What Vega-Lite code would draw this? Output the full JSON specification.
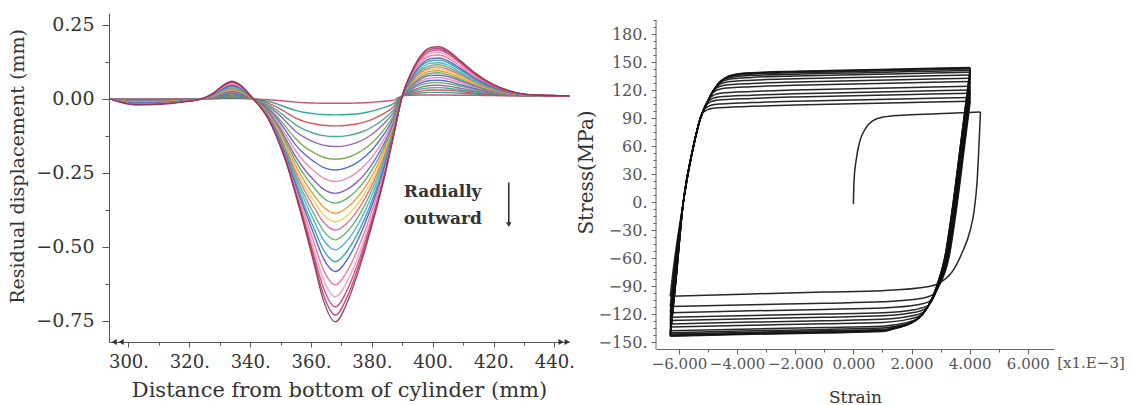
{
"$schema":"https://vega.github.io/schema/vega-lite/v6.json",
"background":"white",
"padding":{"left":8,"top":13,"right":5,"bottom":2},
"bounds":"flush",
"spacing":87,
"config":{"view":{"stroke":null},"font":"DejaVu Serif","axis":{"grid":false,"titleFontWeight":"normal","labelFlush":false,"labelOverlap":false}},
"datasets":{
"disp":[
{"c":1,"x":294,"y":0},{"c":1,"x":302,"y":0},{"c":1,"x":311,"y":0},{"c":1,"x":318,"y":0},{"c":1,"x":324,"y":0},{"c":1,"x":328,"y":0},{"c":1,"x":331,"y":0.001},{"c":1,"x":334,"y":0.001},{"c":1,"x":337,"y":0.001},{"c":1,"x":340,"y":0},{"c":1,"x":343,"y":-0.001},{"c":1,"x":346,"y":-0.003},{"c":1,"x":349,"y":-0.005},{"c":1,"x":352,"y":-0.008},{"c":1,"x":355,"y":-0.011},{"c":1,"x":358,"y":-0.013},{"c":1,"x":361,"y":-0.014},{"c":1,"x":364,"y":-0.015},{"c":1,"x":368,"y":-0.015},{"c":1,"x":372,"y":-0.015},{"c":1,"x":375,"y":-0.014},{"c":1,"x":378,"y":-0.013},{"c":1,"x":381,"y":-0.011},{"c":1,"x":384,"y":-0.008},{"c":1,"x":387,"y":-0.005},{"c":1,"x":390,"y":0.01},{"c":1,"x":393,"y":0.012},{"c":1,"x":396,"y":0.013},{"c":1,"x":399,"y":0.013},{"c":1,"x":402,"y":0.013},{"c":1,"x":405,"y":0.013},{"c":1,"x":409,"y":0.012},{"c":1,"x":414,"y":0.012},{"c":1,"x":420,"y":0.011},{"c":1,"x":427,"y":0.01},{"c":1,"x":435,"y":0.01},{"c":1,"x":445,"y":0.01},
{"c":2,"x":294,"y":0},{"c":2,"x":302,"y":-0.001},{"c":2,"x":311,"y":-0.001},{"c":2,"x":318,"y":-0.001},{"c":2,"x":324,"y":0},{"c":2,"x":328,"y":0.001},{"c":2,"x":331,"y":0.003},{"c":2,"x":334,"y":0.004},{"c":2,"x":337,"y":0.003},{"c":2,"x":340,"y":0.001},{"c":2,"x":343,"y":-0.003},{"c":2,"x":346,"y":-0.009},{"c":2,"x":349,"y":-0.018},{"c":2,"x":352,"y":-0.029},{"c":2,"x":355,"y":-0.039},{"c":2,"x":358,"y":-0.046},{"c":2,"x":361,"y":-0.05},{"c":2,"x":364,"y":-0.053},{"c":2,"x":368,"y":-0.054},{"c":2,"x":372,"y":-0.053},{"c":2,"x":375,"y":-0.051},{"c":2,"x":378,"y":-0.046},{"c":2,"x":381,"y":-0.039},{"c":2,"x":384,"y":-0.029},{"c":2,"x":387,"y":-0.017},{"c":2,"x":390,"y":0.01},{"c":2,"x":393,"y":0.016},{"c":2,"x":396,"y":0.02},{"c":2,"x":399,"y":0.022},{"c":2,"x":402,"y":0.022},{"c":2,"x":405,"y":0.021},{"c":2,"x":409,"y":0.019},{"c":2,"x":414,"y":0.016},{"c":2,"x":420,"y":0.013},{"c":2,"x":427,"y":0.011},{"c":2,"x":435,"y":0.01},{"c":2,"x":445,"y":0.01},
{"c":3,"x":294,"y":0},{"c":3,"x":302,"y":-0.002},{"c":3,"x":311,"y":-0.002},{"c":3,"x":318,"y":-0.001},{"c":3,"x":324,"y":0},{"c":3,"x":328,"y":0.002},{"c":3,"x":331,"y":0.005},{"c":3,"x":334,"y":0.007},{"c":3,"x":337,"y":0.005},{"c":3,"x":340,"y":0.001},{"c":3,"x":343,"y":-0.005},{"c":3,"x":346,"y":-0.015},{"c":3,"x":349,"y":-0.029},{"c":3,"x":352,"y":-0.047},{"c":3,"x":355,"y":-0.065},{"c":3,"x":358,"y":-0.077},{"c":3,"x":361,"y":-0.084},{"c":3,"x":364,"y":-0.089},{"c":3,"x":368,"y":-0.091},{"c":3,"x":372,"y":-0.089},{"c":3,"x":375,"y":-0.085},{"c":3,"x":378,"y":-0.077},{"c":3,"x":381,"y":-0.065},{"c":3,"x":384,"y":-0.049},{"c":3,"x":387,"y":-0.028},{"c":3,"x":390,"y":0.01},{"c":3,"x":393,"y":0.02},{"c":3,"x":396,"y":0.026},{"c":3,"x":399,"y":0.03},{"c":3,"x":402,"y":0.03},{"c":3,"x":405,"y":0.029},{"c":3,"x":409,"y":0.025},{"c":3,"x":414,"y":0.019},{"c":3,"x":420,"y":0.015},{"c":3,"x":427,"y":0.011},{"c":3,"x":435,"y":0.01},{"c":3,"x":445,"y":0.01},
{"c":4,"x":294,"y":0},{"c":4,"x":302,"y":-0.003},{"c":4,"x":311,"y":-0.003},{"c":4,"x":318,"y":-0.002},{"c":4,"x":324,"y":0},{"c":4,"x":328,"y":0.003},{"c":4,"x":331,"y":0.008},{"c":4,"x":334,"y":0.01},{"c":4,"x":337,"y":0.008},{"c":4,"x":340,"y":0.002},{"c":4,"x":343,"y":-0.007},{"c":4,"x":346,"y":-0.021},{"c":4,"x":349,"y":-0.04},{"c":4,"x":352,"y":-0.064},{"c":4,"x":355,"y":-0.088},{"c":4,"x":358,"y":-0.105},{"c":4,"x":361,"y":-0.116},{"c":4,"x":364,"y":-0.124},{"c":4,"x":368,"y":-0.127},{"c":4,"x":372,"y":-0.124},{"c":4,"x":375,"y":-0.117},{"c":4,"x":378,"y":-0.106},{"c":4,"x":381,"y":-0.089},{"c":4,"x":384,"y":-0.067},{"c":4,"x":387,"y":-0.039},{"c":4,"x":390,"y":0.01},{"c":4,"x":393,"y":0.024},{"c":4,"x":396,"y":0.033},{"c":4,"x":399,"y":0.037},{"c":4,"x":402,"y":0.038},{"c":4,"x":405,"y":0.036},{"c":4,"x":409,"y":0.03},{"c":4,"x":414,"y":0.023},{"c":4,"x":420,"y":0.016},{"c":4,"x":427,"y":0.012},{"c":4,"x":435,"y":0.01},{"c":4,"x":445,"y":0.01},
{"c":5,"x":294,"y":0},{"c":5,"x":302,"y":-0.004},{"c":5,"x":311,"y":-0.004},{"c":5,"x":318,"y":-0.002},{"c":5,"x":324,"y":0},{"c":5,"x":328,"y":0.004},{"c":5,"x":331,"y":0.01},{"c":5,"x":334,"y":0.013},{"c":5,"x":337,"y":0.01},{"c":5,"x":340,"y":0.003},{"c":5,"x":343,"y":-0.009},{"c":5,"x":346,"y":-0.026},{"c":5,"x":349,"y":-0.049},{"c":5,"x":352,"y":-0.08},{"c":5,"x":355,"y":-0.11},{"c":5,"x":358,"y":-0.131},{"c":5,"x":361,"y":-0.146},{"c":5,"x":364,"y":-0.156},{"c":5,"x":368,"y":-0.161},{"c":5,"x":372,"y":-0.157},{"c":5,"x":375,"y":-0.148},{"c":5,"x":378,"y":-0.133},{"c":5,"x":381,"y":-0.112},{"c":5,"x":384,"y":-0.083},{"c":5,"x":387,"y":-0.048},{"c":5,"x":390,"y":0.01},{"c":5,"x":393,"y":0.027},{"c":5,"x":396,"y":0.039},{"c":5,"x":399,"y":0.045},{"c":5,"x":402,"y":0.046},{"c":5,"x":405,"y":0.043},{"c":5,"x":409,"y":0.036},{"c":5,"x":414,"y":0.026},{"c":5,"x":420,"y":0.018},{"c":5,"x":427,"y":0.013},{"c":5,"x":435,"y":0.01},{"c":5,"x":445,"y":0.01},
{"c":6,"x":294,"y":0},{"c":6,"x":302,"y":-0.005},{"c":6,"x":311,"y":-0.005},{"c":6,"x":318,"y":-0.003},{"c":6,"x":324,"y":0},{"c":6,"x":328,"y":0.005},{"c":6,"x":331,"y":0.012},{"c":6,"x":334,"y":0.016},{"c":6,"x":337,"y":0.012},{"c":6,"x":340,"y":0.003},{"c":6,"x":343,"y":-0.011},{"c":6,"x":346,"y":-0.032},{"c":6,"x":349,"y":-0.061},{"c":6,"x":352,"y":-0.098},{"c":6,"x":355,"y":-0.135},{"c":6,"x":358,"y":-0.163},{"c":6,"x":361,"y":-0.182},{"c":6,"x":364,"y":-0.197},{"c":6,"x":368,"y":-0.204},{"c":6,"x":372,"y":-0.198},{"c":6,"x":375,"y":-0.185},{"c":6,"x":378,"y":-0.166},{"c":6,"x":381,"y":-0.139},{"c":6,"x":384,"y":-0.103},{"c":6,"x":387,"y":-0.059},{"c":6,"x":390,"y":0.01},{"c":6,"x":393,"y":0.032},{"c":6,"x":396,"y":0.047},{"c":6,"x":399,"y":0.054},{"c":6,"x":402,"y":0.055},{"c":6,"x":405,"y":0.051},{"c":6,"x":409,"y":0.043},{"c":6,"x":414,"y":0.031},{"c":6,"x":420,"y":0.02},{"c":6,"x":427,"y":0.013},{"c":6,"x":435,"y":0.011},{"c":6,"x":445,"y":0.01},
{"c":7,"x":294,"y":0},{"c":7,"x":302,"y":-0.006},{"c":7,"x":311,"y":-0.006},{"c":7,"x":318,"y":-0.003},{"c":7,"x":324,"y":0},{"c":7,"x":328,"y":0.006},{"c":7,"x":331,"y":0.014},{"c":7,"x":334,"y":0.019},{"c":7,"x":337,"y":0.014},{"c":7,"x":340,"y":0.004},{"c":7,"x":343,"y":-0.012},{"c":7,"x":346,"y":-0.036},{"c":7,"x":349,"y":-0.069},{"c":7,"x":352,"y":-0.112},{"c":7,"x":355,"y":-0.156},{"c":7,"x":358,"y":-0.188},{"c":7,"x":361,"y":-0.212},{"c":7,"x":364,"y":-0.231},{"c":7,"x":368,"y":-0.24},{"c":7,"x":372,"y":-0.231},{"c":7,"x":375,"y":-0.216},{"c":7,"x":378,"y":-0.193},{"c":7,"x":381,"y":-0.161},{"c":7,"x":384,"y":-0.119},{"c":7,"x":387,"y":-0.067},{"c":7,"x":390,"y":0.01},{"c":7,"x":393,"y":0.036},{"c":7,"x":396,"y":0.053},{"c":7,"x":399,"y":0.062},{"c":7,"x":402,"y":0.063},{"c":7,"x":405,"y":0.059},{"c":7,"x":409,"y":0.048},{"c":7,"x":414,"y":0.035},{"c":7,"x":420,"y":0.022},{"c":7,"x":427,"y":0.014},{"c":7,"x":435,"y":0.011},{"c":7,"x":445,"y":0.01},
{"c":8,"x":294,"y":0},{"c":8,"x":302,"y":-0.007},{"c":8,"x":311,"y":-0.007},{"c":8,"x":318,"y":-0.004},{"c":8,"x":324,"y":0},{"c":8,"x":328,"y":0.007},{"c":8,"x":331,"y":0.017},{"c":8,"x":334,"y":0.022},{"c":8,"x":337,"y":0.017},{"c":8,"x":340,"y":0.004},{"c":8,"x":343,"y":-0.014},{"c":8,"x":346,"y":-0.041},{"c":8,"x":349,"y":-0.078},{"c":8,"x":352,"y":-0.127},{"c":8,"x":355,"y":-0.176},{"c":8,"x":358,"y":-0.215},{"c":8,"x":361,"y":-0.243},{"c":8,"x":364,"y":-0.267},{"c":8,"x":368,"y":-0.279},{"c":8,"x":372,"y":-0.268},{"c":8,"x":375,"y":-0.249},{"c":8,"x":378,"y":-0.221},{"c":8,"x":381,"y":-0.184},{"c":8,"x":384,"y":-0.135},{"c":8,"x":387,"y":-0.076},{"c":8,"x":390,"y":0.01},{"c":8,"x":393,"y":0.04},{"c":8,"x":396,"y":0.06},{"c":8,"x":399,"y":0.07},{"c":8,"x":402,"y":0.072},{"c":8,"x":405,"y":0.067},{"c":8,"x":409,"y":0.055},{"c":8,"x":414,"y":0.039},{"c":8,"x":420,"y":0.024},{"c":8,"x":427,"y":0.014},{"c":8,"x":435,"y":0.011},{"c":8,"x":445,"y":0.01},
{"c":9,"x":294,"y":0},{"c":9,"x":302,"y":-0.008},{"c":9,"x":311,"y":-0.008},{"c":9,"x":318,"y":-0.004},{"c":9,"x":324,"y":0},{"c":9,"x":328,"y":0.008},{"c":9,"x":331,"y":0.019},{"c":9,"x":334,"y":0.025},{"c":9,"x":337,"y":0.019},{"c":9,"x":340,"y":0.005},{"c":9,"x":343,"y":-0.015},{"c":9,"x":346,"y":-0.045},{"c":9,"x":349,"y":-0.087},{"c":9,"x":352,"y":-0.14},{"c":9,"x":355,"y":-0.196},{"c":9,"x":358,"y":-0.24},{"c":9,"x":361,"y":-0.275},{"c":9,"x":364,"y":-0.304},{"c":9,"x":368,"y":-0.319},{"c":9,"x":372,"y":-0.305},{"c":9,"x":375,"y":-0.282},{"c":9,"x":378,"y":-0.25},{"c":9,"x":381,"y":-0.206},{"c":9,"x":384,"y":-0.151},{"c":9,"x":387,"y":-0.084},{"c":9,"x":390,"y":0.01},{"c":9,"x":393,"y":0.044},{"c":9,"x":396,"y":0.067},{"c":9,"x":399,"y":0.079},{"c":9,"x":402,"y":0.08},{"c":9,"x":405,"y":0.075},{"c":9,"x":409,"y":0.061},{"c":9,"x":414,"y":0.043},{"c":9,"x":420,"y":0.026},{"c":9,"x":427,"y":0.015},{"c":9,"x":435,"y":0.011},{"c":9,"x":445,"y":0.01},
{"c":10,"x":294,"y":0},{"c":10,"x":302,"y":-0.009},{"c":10,"x":311,"y":-0.008},{"c":10,"x":318,"y":-0.005},{"c":10,"x":324,"y":0},{"c":10,"x":328,"y":0.009},{"c":10,"x":331,"y":0.021},{"c":10,"x":334,"y":0.028},{"c":10,"x":337,"y":0.021},{"c":10,"x":340,"y":0.006},{"c":10,"x":343,"y":-0.016},{"c":10,"x":346,"y":-0.049},{"c":10,"x":349,"y":-0.093},{"c":10,"x":352,"y":-0.151},{"c":10,"x":355,"y":-0.211},{"c":10,"x":358,"y":-0.26},{"c":10,"x":361,"y":-0.3},{"c":10,"x":364,"y":-0.334},{"c":10,"x":368,"y":-0.352},{"c":10,"x":372,"y":-0.335},{"c":10,"x":375,"y":-0.309},{"c":10,"x":378,"y":-0.272},{"c":10,"x":381,"y":-0.224},{"c":10,"x":384,"y":-0.164},{"c":10,"x":387,"y":-0.09},{"c":10,"x":390,"y":0.01},{"c":10,"x":393,"y":0.047},{"c":10,"x":396,"y":0.073},{"c":10,"x":399,"y":0.086},{"c":10,"x":402,"y":0.088},{"c":10,"x":405,"y":0.081},{"c":10,"x":409,"y":0.066},{"c":10,"x":414,"y":0.046},{"c":10,"x":420,"y":0.028},{"c":10,"x":427,"y":0.016},{"c":10,"x":435,"y":0.011},{"c":10,"x":445,"y":0.01},
{"c":11,"x":294,"y":0},{"c":11,"x":302,"y":-0.01},{"c":11,"x":311,"y":-0.009},{"c":11,"x":318,"y":-0.005},{"c":11,"x":324,"y":0},{"c":11,"x":328,"y":0.01},{"c":11,"x":331,"y":0.023},{"c":11,"x":334,"y":0.031},{"c":11,"x":337,"y":0.023},{"c":11,"x":340,"y":0.006},{"c":11,"x":343,"y":-0.017},{"c":11,"x":346,"y":-0.052},{"c":11,"x":349,"y":-0.1},{"c":11,"x":352,"y":-0.161},{"c":11,"x":355,"y":-0.226},{"c":11,"x":358,"y":-0.28},{"c":11,"x":361,"y":-0.325},{"c":11,"x":364,"y":-0.364},{"c":11,"x":368,"y":-0.386},{"c":11,"x":372,"y":-0.366},{"c":11,"x":375,"y":-0.336},{"c":11,"x":378,"y":-0.295},{"c":11,"x":381,"y":-0.242},{"c":11,"x":384,"y":-0.176},{"c":11,"x":387,"y":-0.096},{"c":11,"x":390,"y":0.01},{"c":11,"x":393,"y":0.051},{"c":11,"x":396,"y":0.079},{"c":11,"x":399,"y":0.093},{"c":11,"x":402,"y":0.095},{"c":11,"x":405,"y":0.088},{"c":11,"x":409,"y":0.072},{"c":11,"x":414,"y":0.05},{"c":11,"x":420,"y":0.029},{"c":11,"x":427,"y":0.016},{"c":11,"x":435,"y":0.011},{"c":11,"x":445,"y":0.01},
{"c":12,"x":294,"y":0},{"c":12,"x":302,"y":-0.011},{"c":12,"x":311,"y":-0.01},{"c":12,"x":318,"y":-0.006},{"c":12,"x":324,"y":0},{"c":12,"x":328,"y":0.011},{"c":12,"x":331,"y":0.025},{"c":12,"x":334,"y":0.033},{"c":12,"x":337,"y":0.025},{"c":12,"x":340,"y":0.007},{"c":12,"x":343,"y":-0.018},{"c":12,"x":346,"y":-0.054},{"c":12,"x":349,"y":-0.105},{"c":12,"x":352,"y":-0.169},{"c":12,"x":355,"y":-0.238},{"c":12,"x":358,"y":-0.297},{"c":12,"x":361,"y":-0.346},{"c":12,"x":364,"y":-0.39},{"c":12,"x":368,"y":-0.415},{"c":12,"x":372,"y":-0.393},{"c":12,"x":375,"y":-0.359},{"c":12,"x":378,"y":-0.314},{"c":12,"x":381,"y":-0.256},{"c":12,"x":384,"y":-0.186},{"c":12,"x":387,"y":-0.101},{"c":12,"x":390,"y":0.01},{"c":12,"x":393,"y":0.054},{"c":12,"x":396,"y":0.084},{"c":12,"x":399,"y":0.099},{"c":12,"x":402,"y":0.101},{"c":12,"x":405,"y":0.094},{"c":12,"x":409,"y":0.076},{"c":12,"x":414,"y":0.052},{"c":12,"x":420,"y":0.031},{"c":12,"x":427,"y":0.017},{"c":12,"x":435,"y":0.011},{"c":12,"x":445,"y":0.01},
{"c":13,"x":294,"y":0},{"c":13,"x":302,"y":-0.012},{"c":13,"x":311,"y":-0.011},{"c":13,"x":318,"y":-0.006},{"c":13,"x":324,"y":0},{"c":13,"x":328,"y":0.012},{"c":13,"x":331,"y":0.026},{"c":13,"x":334,"y":0.035},{"c":13,"x":337,"y":0.026},{"c":13,"x":340,"y":0.007},{"c":13,"x":343,"y":-0.019},{"c":13,"x":346,"y":-0.056},{"c":13,"x":349,"y":-0.109},{"c":13,"x":352,"y":-0.176},{"c":13,"x":355,"y":-0.249},{"c":13,"x":358,"y":-0.312},{"c":13,"x":361,"y":-0.366},{"c":13,"x":364,"y":-0.415},{"c":13,"x":368,"y":-0.443},{"c":13,"x":372,"y":-0.418},{"c":13,"x":375,"y":-0.381},{"c":13,"x":378,"y":-0.332},{"c":13,"x":381,"y":-0.27},{"c":13,"x":384,"y":-0.196},{"c":13,"x":387,"y":-0.105},{"c":13,"x":390,"y":0.01},{"c":13,"x":393,"y":0.057},{"c":13,"x":396,"y":0.089},{"c":13,"x":399,"y":0.105},{"c":13,"x":402,"y":0.108},{"c":13,"x":405,"y":0.1},{"c":13,"x":409,"y":0.081},{"c":13,"x":414,"y":0.055},{"c":13,"x":420,"y":0.032},{"c":13,"x":427,"y":0.017},{"c":13,"x":435,"y":0.011},{"c":13,"x":445,"y":0.01},
{"c":14,"x":294,"y":0},{"c":14,"x":302,"y":-0.013},{"c":14,"x":311,"y":-0.011},{"c":14,"x":318,"y":-0.006},{"c":14,"x":324,"y":0},{"c":14,"x":328,"y":0.013},{"c":14,"x":331,"y":0.028},{"c":14,"x":334,"y":0.038},{"c":14,"x":337,"y":0.028},{"c":14,"x":340,"y":0.008},{"c":14,"x":343,"y":-0.02},{"c":14,"x":346,"y":-0.059},{"c":14,"x":349,"y":-0.114},{"c":14,"x":352,"y":-0.184},{"c":14,"x":355,"y":-0.261},{"c":14,"x":358,"y":-0.329},{"c":14,"x":361,"y":-0.389},{"c":14,"x":364,"y":-0.444},{"c":14,"x":368,"y":-0.476},{"c":14,"x":372,"y":-0.447},{"c":14,"x":375,"y":-0.406},{"c":14,"x":378,"y":-0.352},{"c":14,"x":381,"y":-0.285},{"c":14,"x":384,"y":-0.206},{"c":14,"x":387,"y":-0.11},{"c":14,"x":390,"y":0.01},{"c":14,"x":393,"y":0.061},{"c":14,"x":396,"y":0.095},{"c":14,"x":399,"y":0.112},{"c":14,"x":402,"y":0.115},{"c":14,"x":405,"y":0.107},{"c":14,"x":409,"y":0.086},{"c":14,"x":414,"y":0.059},{"c":14,"x":420,"y":0.034},{"c":14,"x":427,"y":0.018},{"c":14,"x":435,"y":0.011},{"c":14,"x":445,"y":0.01},
{"c":15,"x":294,"y":0},{"c":15,"x":302,"y":-0.014},{"c":15,"x":311,"y":-0.012},{"c":15,"x":318,"y":-0.007},{"c":15,"x":324,"y":0},{"c":15,"x":328,"y":0.014},{"c":15,"x":331,"y":0.03},{"c":15,"x":334,"y":0.041},{"c":15,"x":337,"y":0.03},{"c":15,"x":340,"y":0.008},{"c":15,"x":343,"y":-0.02},{"c":15,"x":346,"y":-0.061},{"c":15,"x":349,"y":-0.118},{"c":15,"x":352,"y":-0.191},{"c":15,"x":355,"y":-0.272},{"c":15,"x":358,"y":-0.345},{"c":15,"x":361,"y":-0.412},{"c":15,"x":364,"y":-0.474},{"c":15,"x":368,"y":-0.51},{"c":15,"x":372,"y":-0.477},{"c":15,"x":375,"y":-0.432},{"c":15,"x":378,"y":-0.373},{"c":15,"x":381,"y":-0.301},{"c":15,"x":384,"y":-0.216},{"c":15,"x":387,"y":-0.114},{"c":15,"x":390,"y":0.01},{"c":15,"x":393,"y":0.064},{"c":15,"x":396,"y":0.101},{"c":15,"x":399,"y":0.12},{"c":15,"x":402,"y":0.122},{"c":15,"x":405,"y":0.114},{"c":15,"x":409,"y":0.091},{"c":15,"x":414,"y":0.062},{"c":15,"x":420,"y":0.036},{"c":15,"x":427,"y":0.018},{"c":15,"x":435,"y":0.011},{"c":15,"x":445,"y":0.01},
{"c":16,"x":294,"y":0},{"c":16,"x":302,"y":-0.015},{"c":16,"x":311,"y":-0.013},{"c":16,"x":318,"y":-0.007},{"c":16,"x":324,"y":0},{"c":16,"x":328,"y":0.015},{"c":16,"x":331,"y":0.033},{"c":16,"x":334,"y":0.044},{"c":16,"x":337,"y":0.033},{"c":16,"x":340,"y":0.009},{"c":16,"x":343,"y":-0.021},{"c":16,"x":346,"y":-0.063},{"c":16,"x":349,"y":-0.123},{"c":16,"x":352,"y":-0.198},{"c":16,"x":355,"y":-0.284},{"c":16,"x":358,"y":-0.364},{"c":16,"x":361,"y":-0.438},{"c":16,"x":364,"y":-0.508},{"c":16,"x":368,"y":-0.55},{"c":16,"x":372,"y":-0.512},{"c":16,"x":375,"y":-0.461},{"c":16,"x":378,"y":-0.396},{"c":16,"x":381,"y":-0.318},{"c":16,"x":384,"y":-0.227},{"c":16,"x":387,"y":-0.118},{"c":16,"x":390,"y":0.01},{"c":16,"x":393,"y":0.068},{"c":16,"x":396,"y":0.109},{"c":16,"x":399,"y":0.128},{"c":16,"x":402,"y":0.131},{"c":16,"x":405,"y":0.122},{"c":16,"x":409,"y":0.098},{"c":16,"x":414,"y":0.066},{"c":16,"x":420,"y":0.038},{"c":16,"x":427,"y":0.019},{"c":16,"x":435,"y":0.012},{"c":16,"x":445,"y":0.01},
{"c":17,"x":294,"y":0},{"c":17,"x":302,"y":-0.015},{"c":17,"x":311,"y":-0.014},{"c":17,"x":318,"y":-0.008},{"c":17,"x":324,"y":0},{"c":17,"x":328,"y":0.015},{"c":17,"x":331,"y":0.035},{"c":17,"x":334,"y":0.046},{"c":17,"x":337,"y":0.035},{"c":17,"x":340,"y":0.009},{"c":17,"x":343,"y":-0.021},{"c":17,"x":346,"y":-0.064},{"c":17,"x":349,"y":-0.126},{"c":17,"x":352,"y":-0.203},{"c":17,"x":355,"y":-0.293},{"c":17,"x":358,"y":-0.378},{"c":17,"x":361,"y":-0.459},{"c":17,"x":364,"y":-0.537},{"c":17,"x":368,"y":-0.583},{"c":17,"x":372,"y":-0.541},{"c":17,"x":375,"y":-0.485},{"c":17,"x":378,"y":-0.414},{"c":17,"x":381,"y":-0.331},{"c":17,"x":384,"y":-0.236},{"c":17,"x":387,"y":-0.122},{"c":17,"x":390,"y":0.01},{"c":17,"x":393,"y":0.072},{"c":17,"x":396,"y":0.114},{"c":17,"x":399,"y":0.135},{"c":17,"x":402,"y":0.138},{"c":17,"x":405,"y":0.128},{"c":17,"x":409,"y":0.103},{"c":17,"x":414,"y":0.07},{"c":17,"x":420,"y":0.039},{"c":17,"x":427,"y":0.019},{"c":17,"x":435,"y":0.012},{"c":17,"x":445,"y":0.01},
{"c":18,"x":294,"y":0},{"c":18,"x":302,"y":-0.017},{"c":18,"x":311,"y":-0.015},{"c":18,"x":318,"y":-0.008},{"c":18,"x":324,"y":0},{"c":18,"x":328,"y":0.017},{"c":18,"x":331,"y":0.038},{"c":18,"x":334,"y":0.05},{"c":18,"x":337,"y":0.038},{"c":18,"x":340,"y":0.01},{"c":18,"x":343,"y":-0.022},{"c":18,"x":346,"y":-0.066},{"c":18,"x":349,"y":-0.13},{"c":18,"x":352,"y":-0.209},{"c":18,"x":355,"y":-0.303},{"c":18,"x":358,"y":-0.396},{"c":18,"x":361,"y":-0.486},{"c":18,"x":364,"y":-0.575},{"c":18,"x":368,"y":-0.628},{"c":18,"x":372,"y":-0.58},{"c":18,"x":375,"y":-0.516},{"c":18,"x":378,"y":-0.438},{"c":18,"x":381,"y":-0.348},{"c":18,"x":384,"y":-0.246},{"c":18,"x":387,"y":-0.125},{"c":18,"x":390,"y":0.01},{"c":18,"x":393,"y":0.077},{"c":18,"x":396,"y":0.123},{"c":18,"x":399,"y":0.145},{"c":18,"x":402,"y":0.148},{"c":18,"x":405,"y":0.138},{"c":18,"x":409,"y":0.11},{"c":18,"x":414,"y":0.074},{"c":18,"x":420,"y":0.042},{"c":18,"x":427,"y":0.02},{"c":18,"x":435,"y":0.012},{"c":18,"x":445,"y":0.01},
{"c":19,"x":294,"y":0},{"c":19,"x":302,"y":-0.018},{"c":19,"x":311,"y":-0.016},{"c":19,"x":318,"y":-0.009},{"c":19,"x":324,"y":0},{"c":19,"x":328,"y":0.018},{"c":19,"x":331,"y":0.04},{"c":19,"x":334,"y":0.053},{"c":19,"x":337,"y":0.04},{"c":19,"x":340,"y":0.011},{"c":19,"x":343,"y":-0.022},{"c":19,"x":346,"y":-0.067},{"c":19,"x":349,"y":-0.132},{"c":19,"x":352,"y":-0.213},{"c":19,"x":355,"y":-0.311},{"c":19,"x":358,"y":-0.41},{"c":19,"x":361,"y":-0.51},{"c":19,"x":364,"y":-0.608},{"c":19,"x":368,"y":-0.668},{"c":19,"x":372,"y":-0.614},{"c":19,"x":375,"y":-0.544},{"c":19,"x":378,"y":-0.459},{"c":19,"x":381,"y":-0.363},{"c":19,"x":384,"y":-0.255},{"c":19,"x":387,"y":-0.127},{"c":19,"x":390,"y":0.01},{"c":19,"x":393,"y":0.081},{"c":19,"x":396,"y":0.13},{"c":19,"x":399,"y":0.154},{"c":19,"x":402,"y":0.157},{"c":19,"x":405,"y":0.146},{"c":19,"x":409,"y":0.116},{"c":19,"x":414,"y":0.078},{"c":19,"x":420,"y":0.044},{"c":19,"x":427,"y":0.021},{"c":19,"x":435,"y":0.012},{"c":19,"x":445,"y":0.01},
{"c":20,"x":294,"y":0},{"c":20,"x":302,"y":-0.019},{"c":20,"x":311,"y":-0.017},{"c":20,"x":318,"y":-0.009},{"c":20,"x":324,"y":0},{"c":20,"x":328,"y":0.019},{"c":20,"x":331,"y":0.042},{"c":20,"x":334,"y":0.056},{"c":20,"x":337,"y":0.042},{"c":20,"x":340,"y":0.011},{"c":20,"x":343,"y":-0.022},{"c":20,"x":346,"y":-0.067},{"c":20,"x":349,"y":-0.134},{"c":20,"x":352,"y":-0.216},{"c":20,"x":355,"y":-0.317},{"c":20,"x":358,"y":-0.421},{"c":20,"x":361,"y":-0.53},{"c":20,"x":364,"y":-0.636},{"c":20,"x":368,"y":-0.702},{"c":20,"x":372,"y":-0.643},{"c":20,"x":375,"y":-0.567},{"c":20,"x":378,"y":-0.476},{"c":20,"x":381,"y":-0.374},{"c":20,"x":384,"y":-0.262},{"c":20,"x":387,"y":-0.129},{"c":20,"x":390,"y":0.01},{"c":20,"x":393,"y":0.085},{"c":20,"x":396,"y":0.136},{"c":20,"x":399,"y":0.161},{"c":20,"x":402,"y":0.165},{"c":20,"x":405,"y":0.153},{"c":20,"x":409,"y":0.122},{"c":20,"x":414,"y":0.082},{"c":20,"x":420,"y":0.045},{"c":20,"x":427,"y":0.021},{"c":20,"x":435,"y":0.012},{"c":20,"x":445,"y":0.01},
{"c":21,"x":294,"y":0},{"c":21,"x":302,"y":-0.019},{"c":21,"x":311,"y":-0.017},{"c":21,"x":318,"y":-0.01},{"c":21,"x":324,"y":0},{"c":21,"x":328,"y":0.019},{"c":21,"x":331,"y":0.044},{"c":21,"x":334,"y":0.058},{"c":21,"x":337,"y":0.044},{"c":21,"x":340,"y":0.012},{"c":21,"x":343,"y":-0.023},{"c":21,"x":346,"y":-0.068},{"c":21,"x":349,"y":-0.135},{"c":21,"x":352,"y":-0.218},{"c":21,"x":355,"y":-0.321},{"c":21,"x":358,"y":-0.43},{"c":21,"x":361,"y":-0.545},{"c":21,"x":364,"y":-0.659},{"c":21,"x":368,"y":-0.73},{"c":21,"x":372,"y":-0.666},{"c":21,"x":375,"y":-0.585},{"c":21,"x":378,"y":-0.489},{"c":21,"x":381,"y":-0.383},{"c":21,"x":384,"y":-0.267},{"c":21,"x":387,"y":-0.13},{"c":21,"x":390,"y":0.01},{"c":21,"x":393,"y":0.088},{"c":21,"x":396,"y":0.141},{"c":21,"x":399,"y":0.167},{"c":21,"x":402,"y":0.171},{"c":21,"x":405,"y":0.158},{"c":21,"x":409,"y":0.126},{"c":21,"x":414,"y":0.085},{"c":21,"x":420,"y":0.047},{"c":21,"x":427,"y":0.022},{"c":21,"x":435,"y":0.012},{"c":21,"x":445,"y":0.01},
{"c":22,"x":294,"y":0},{"c":22,"x":302,"y":-0.02},{"c":22,"x":311,"y":-0.018},{"c":22,"x":318,"y":-0.01},{"c":22,"x":324,"y":0},{"c":22,"x":328,"y":0.02},{"c":22,"x":331,"y":0.045},{"c":22,"x":334,"y":0.06},{"c":22,"x":337,"y":0.045},{"c":22,"x":340,"y":0.012},{"c":22,"x":343,"y":-0.023},{"c":22,"x":346,"y":-0.068},{"c":22,"x":349,"y":-0.136},{"c":22,"x":352,"y":-0.218},{"c":22,"x":355,"y":-0.324},{"c":22,"x":358,"y":-0.437},{"c":22,"x":361,"y":-0.557},{"c":22,"x":364,"y":-0.678},{"c":22,"x":368,"y":-0.753},{"c":22,"x":372,"y":-0.685},{"c":22,"x":375,"y":-0.6},{"c":22,"x":378,"y":-0.5},{"c":22,"x":381,"y":-0.39},{"c":22,"x":384,"y":-0.27},{"c":22,"x":387,"y":-0.13},{"c":22,"x":390,"y":0.01},{"c":22,"x":393,"y":0.09},{"c":22,"x":396,"y":0.145},{"c":22,"x":399,"y":0.172},{"c":22,"x":402,"y":0.176},{"c":22,"x":405,"y":0.163},{"c":22,"x":409,"y":0.13},{"c":22,"x":414,"y":0.087},{"c":22,"x":420,"y":0.048},{"c":22,"x":427,"y":0.022},{"c":22,"x":435,"y":0.012},{"c":22,"x":445,"y":0.01}
],
"loop":[
{"b":"L0","e":0,"s":-2},{"b":"L0","e":0.02,"s":22},{"b":"L0","e":0.1,"s":46},{"b":"L0","e":0.22,"s":65},{"b":"L0","e":0.42,"s":79},{"b":"L0","e":0.66,"s":87},{"b":"L0","e":1.03,"s":91},{"b":"L0","e":1.65,"s":93},{"b":"L0","e":2.87,"s":94.5},{"b":"L0","e":4.37,"s":96.5},
{"b":"D0","e":4.37,"s":96.5},{"b":"D0","e":4.25,"s":20},{"b":"D0","e":4.15,"s":-10},{"b":"D0","e":4.02,"s":-30},{"b":"D0","e":3.73,"s":-55},{"b":"D0","e":3.37,"s":-76},{"b":"D0","e":3.0,"s":-86},{"b":"D0","e":2.6,"s":-90.5},{"b":"D0","e":1,"s":-95},{"b":"D0","e":-1,"s":-96.5},{"b":"D0","e":-3.5,"s":-98.5},{"b":"D0","e":-6.3,"s":-101},
{"b":"R1","e":-6.3,"s":-101},{"b":"R1","e":-6.263,"s":-90},{"b":"R1","e":-5.85,"s":0},{"b":"R1","e":-5.5,"s":60},{"b":"R1","e":-5.26,"s":90},{"b":"R1","e":-5.18,"s":96},{"b":"R1","e":-4.83,"s":100.5},{"b":"R1","e":-3.5,"s":102.5},{"b":"R1","e":-2,"s":104},{"b":"R1","e":0,"s":105.3},{"b":"R1","e":2,"s":106.7},{"b":"R1","e":4.02,"s":108},
{"b":"D1","e":4.02,"s":108},{"b":"D1","e":3.824,"s":60},{"b":"D1","e":3.579,"s":0},{"b":"D1","e":3.284,"s":-60},{"b":"D1","e":2.942,"s":-90},{"b":"D1","e":2.75,"s":-99},{"b":"D1","e":2.3,"s":-103.5},{"b":"D1","e":1,"s":-107},{"b":"D1","e":-1,"s":-108.5},{"b":"D1","e":-3.5,"s":-110},{"b":"D1","e":-6.3,"s":-112},
{"b":"R2","e":-6.3,"s":-112},{"b":"R2","e":-6.227,"s":-90},{"b":"R2","e":-5.85,"s":0},{"b":"R2","e":-5.5,"s":60},{"b":"R2","e":-5.26,"s":90},{"b":"R2","e":-5.12,"s":100},{"b":"R2","e":-4.77,"s":104.5},{"b":"R2","e":-3.5,"s":106.5},{"b":"R2","e":-2,"s":108},{"b":"R2","e":0,"s":109.3},{"b":"R2","e":2,"s":110.7},{"b":"R2","e":4.02,"s":112},
{"b":"D2","e":4.02,"s":112},{"b":"D2","e":3.808,"s":60},{"b":"D2","e":3.563,"s":0},{"b":"D2","e":3.268,"s":-60},{"b":"D2","e":2.934,"s":-90},{"b":"D2","e":2.66,"s":-105.6},{"b":"D2","e":2.21,"s":-110.1},{"b":"D2","e":1,"s":-113.6},{"b":"D2","e":-1,"s":-115.1},{"b":"D2","e":-3.5,"s":-116.6},{"b":"D2","e":-6.3,"s":-118.6},
{"b":"R3","e":-6.3,"s":-118.6},{"b":"R3","e":-6.205,"s":-90},{"b":"R3","e":-5.85,"s":0},{"b":"R3","e":-5.5,"s":60},{"b":"R3","e":-5.26,"s":90},{"b":"R3","e":-5.06,"s":104.5},{"b":"R3","e":-4.71,"s":109},{"b":"R3","e":-3.5,"s":111},{"b":"R3","e":-2,"s":112.5},{"b":"R3","e":0,"s":113.8},{"b":"R3","e":2,"s":115.2},{"b":"R3","e":4.02,"s":116.5},
{"b":"D3","e":4.02,"s":116.5},{"b":"D3","e":3.789,"s":60},{"b":"D3","e":3.544,"s":0},{"b":"D3","e":3.25,"s":-60},{"b":"D3","e":2.925,"s":-90},{"b":"D3","e":2.59,"s":-110.6},{"b":"D3","e":2.14,"s":-115.1},{"b":"D3","e":1,"s":-118.6},{"b":"D3","e":-1,"s":-120.1},{"b":"D3","e":-3.5,"s":-121.6},{"b":"D3","e":-6.3,"s":-123.6},
{"b":"R4","e":-6.3,"s":-123.6},{"b":"R4","e":-6.188,"s":-90},{"b":"R4","e":-5.85,"s":0},{"b":"R4","e":-5.5,"s":60},{"b":"R4","e":-5.26,"s":90},{"b":"R4","e":-5,"s":108},{"b":"R4","e":-4.65,"s":112.5},{"b":"R4","e":-3.5,"s":114.5},{"b":"R4","e":-2,"s":116},{"b":"R4","e":0,"s":117.3},{"b":"R4","e":2,"s":118.7},{"b":"R4","e":4.02,"s":120},
{"b":"D4","e":4.02,"s":120},{"b":"D4","e":3.775,"s":60},{"b":"D4","e":3.53,"s":0},{"b":"D4","e":3.235,"s":-60},{"b":"D4","e":2.918,"s":-90},{"b":"D4","e":2.6,"s":-110},{"b":"D4","e":2.51,"s":-114},{"b":"D4","e":2.06,"s":-118.5},{"b":"D4","e":1,"s":-122},{"b":"D4","e":-1,"s":-123.5},{"b":"D4","e":-3.5,"s":-125},{"b":"D4","e":-6.3,"s":-127},
{"b":"R5","e":-6.3,"s":-127},{"b":"R5","e":-6.177,"s":-90},{"b":"R5","e":-5.85,"s":0},{"b":"R5","e":-5.5,"s":60},{"b":"R5","e":-5.26,"s":90},{"b":"R5","e":-5.05,"s":105},{"b":"R5","e":-4.93,"s":112},{"b":"R5","e":-4.58,"s":116.5},{"b":"R5","e":-3.5,"s":118.5},{"b":"R5","e":-2,"s":120},{"b":"R5","e":0,"s":121.3},{"b":"R5","e":2,"s":122.7},{"b":"R5","e":4.02,"s":124},
{"b":"D5","e":4.02,"s":124},{"b":"D5","e":3.759,"s":60},{"b":"D5","e":3.514,"s":0},{"b":"D5","e":3.219,"s":-60},{"b":"D5","e":2.91,"s":-90},{"b":"D5","e":2.6,"s":-110},{"b":"D5","e":2.43,"s":-117.7},{"b":"D5","e":1.98,"s":-122.2},{"b":"D5","e":1,"s":-125.7},{"b":"D5","e":-1,"s":-127.2},{"b":"D5","e":-3.5,"s":-128.7},{"b":"D5","e":-6.3,"s":-130.7},
{"b":"R6","e":-6.3,"s":-130.7},{"b":"R6","e":-6.164,"s":-90},{"b":"R6","e":-5.85,"s":0},{"b":"R6","e":-5.5,"s":60},{"b":"R6","e":-5.26,"s":90},{"b":"R6","e":-5.05,"s":105},{"b":"R6","e":-4.85,"s":117},{"b":"R6","e":-4.5,"s":121.5},{"b":"R6","e":-3.5,"s":123.5},{"b":"R6","e":-2,"s":125},{"b":"R6","e":0,"s":126.3},{"b":"R6","e":2,"s":127.7},{"b":"R6","e":4.02,"s":129},
{"b":"D6","e":4.02,"s":129},{"b":"D6","e":3.738,"s":60},{"b":"D6","e":3.493,"s":0},{"b":"D6","e":3.199,"s":-60},{"b":"D6","e":2.9,"s":-90},{"b":"D6","e":2.6,"s":-110},{"b":"D6","e":2.35,"s":-121},{"b":"D6","e":1.9,"s":-125.5},{"b":"D6","e":1,"s":-129},{"b":"D6","e":-1,"s":-130.5},{"b":"D6","e":-3.5,"s":-132},{"b":"D6","e":-6.3,"s":-134},
{"b":"R7","e":-6.3,"s":-134},{"b":"R7","e":-6.153,"s":-90},{"b":"R7","e":-5.85,"s":0},{"b":"R7","e":-5.5,"s":60},{"b":"R7","e":-5.26,"s":90},{"b":"R7","e":-5.05,"s":105},{"b":"R7","e":-4.79,"s":120.5},{"b":"R7","e":-4.44,"s":125},{"b":"R7","e":-3.5,"s":127},{"b":"R7","e":-2,"s":128.5},{"b":"R7","e":0,"s":129.8},{"b":"R7","e":2,"s":131.2},{"b":"R7","e":4.02,"s":132.5},
{"b":"D7","e":4.02,"s":132.5},{"b":"D7","e":3.724,"s":60},{"b":"D7","e":3.479,"s":0},{"b":"D7","e":3.184,"s":-60},{"b":"D7","e":2.892,"s":-90},{"b":"D7","e":2.6,"s":-110},{"b":"D7","e":2.38,"s":-120},{"b":"D7","e":2.22,"s":-125},{"b":"D7","e":1.77,"s":-129.5},{"b":"D7","e":1,"s":-133},{"b":"D7","e":-1,"s":-134.5},{"b":"D7","e":-3.5,"s":-136},{"b":"D7","e":-6.3,"s":-138},
{"b":"R8","e":-6.3,"s":-138},{"b":"R8","e":-6.14,"s":-90},{"b":"R8","e":-5.85,"s":0},{"b":"R8","e":-5.5,"s":60},{"b":"R8","e":-5.26,"s":90},{"b":"R8","e":-5.05,"s":105},{"b":"R8","e":-4.8,"s":120},{"b":"R8","e":-4.7,"s":124},{"b":"R8","e":-4.35,"s":128.5},{"b":"R8","e":-3.5,"s":130.5},{"b":"R8","e":-2,"s":132},{"b":"R8","e":0,"s":133.3},{"b":"R8","e":2,"s":134.7},{"b":"R8","e":4.02,"s":136},
{"b":"D8","e":4.02,"s":136},{"b":"D8","e":3.71,"s":60},{"b":"D8","e":3.465,"s":0},{"b":"D8","e":3.17,"s":-60},{"b":"D8","e":2.885,"s":-90},{"b":"D8","e":2.6,"s":-110},{"b":"D8","e":2.38,"s":-120},{"b":"D8","e":2.15,"s":-127},{"b":"D8","e":1.7,"s":-131.5},{"b":"D8","e":1,"s":-135},{"b":"D8","e":-1,"s":-136.5},{"b":"D8","e":-3.5,"s":-138},{"b":"D8","e":-6.3,"s":-140},
{"b":"R9","e":-6.3,"s":-140},{"b":"R9","e":-6.133,"s":-90},{"b":"R9","e":-5.85,"s":0},{"b":"R9","e":-5.5,"s":60},{"b":"R9","e":-5.26,"s":90},{"b":"R9","e":-5.05,"s":105},{"b":"R9","e":-4.8,"s":120},{"b":"R9","e":-4.63,"s":127},{"b":"R9","e":-4.28,"s":131.5},{"b":"R9","e":-3.5,"s":133.5},{"b":"R9","e":-2,"s":135},{"b":"R9","e":0,"s":136.3},{"b":"R9","e":2,"s":137.7},{"b":"R9","e":4.02,"s":139},
{"b":"D9","e":4.02,"s":139},{"b":"D9","e":3.698,"s":60},{"b":"D9","e":3.453,"s":0},{"b":"D9","e":3.158,"s":-60},{"b":"D9","e":2.879,"s":-90},{"b":"D9","e":2.6,"s":-110},{"b":"D9","e":2.38,"s":-120},{"b":"D9","e":2.06,"s":-128.5},{"b":"D9","e":1.61,"s":-133},{"b":"D9","e":1,"s":-136.5},{"b":"D9","e":-1,"s":-138},{"b":"D9","e":-3.5,"s":-139.5},{"b":"D9","e":-6.3,"s":-141.5},
{"b":"R10","e":-6.3,"s":-141.5},{"b":"R10","e":-6.128,"s":-90},{"b":"R10","e":-5.85,"s":0},{"b":"R10","e":-5.5,"s":60},{"b":"R10","e":-5.26,"s":90},{"b":"R10","e":-5.05,"s":105},{"b":"R10","e":-4.8,"s":120},{"b":"R10","e":-4.58,"s":129},{"b":"R10","e":-4.23,"s":133.5},{"b":"R10","e":-3.5,"s":135.5},{"b":"R10","e":-2,"s":137},{"b":"R10","e":0,"s":138.3},{"b":"R10","e":2,"s":139.7},{"b":"R10","e":4.02,"s":141},
{"b":"D10","e":4.02,"s":141},{"b":"D10","e":3.689,"s":60},{"b":"D10","e":3.444,"s":0},{"b":"D10","e":3.15,"s":-60},{"b":"D10","e":2.875,"s":-90},{"b":"D10","e":2.6,"s":-110},{"b":"D10","e":2.38,"s":-120},{"b":"D10","e":1.99,"s":-129.5},{"b":"D10","e":1.54,"s":-134},{"b":"D10","e":1,"s":-137.5},{"b":"D10","e":-1,"s":-139},{"b":"D10","e":-3.5,"s":-140.5},{"b":"D10","e":-6.3,"s":-142.5},
{"b":"R11","e":-6.3,"s":-142.5},{"b":"R11","e":-6.125,"s":-90},{"b":"R11","e":-5.85,"s":0},{"b":"R11","e":-5.5,"s":60},{"b":"R11","e":-5.26,"s":90},{"b":"R11","e":-5.05,"s":105},{"b":"R11","e":-4.8,"s":120},{"b":"R11","e":-4.53,"s":130.5},{"b":"R11","e":-4.18,"s":135},{"b":"R11","e":-3.5,"s":137},{"b":"R11","e":-2,"s":138.5},{"b":"R11","e":0,"s":139.8},{"b":"R11","e":2,"s":141.2},{"b":"R11","e":4.02,"s":142.5},
{"b":"D11","e":4.02,"s":142.5},{"b":"D11","e":3.683,"s":60},{"b":"D11","e":3.438,"s":0},{"b":"D11","e":3.143,"s":-60},{"b":"D11","e":2.872,"s":-90},{"b":"D11","e":2.6,"s":-110},{"b":"D11","e":2.38,"s":-120},{"b":"D11","e":1.95,"s":-130.2},{"b":"D11","e":1.5,"s":-134.7},{"b":"D11","e":1,"s":-138.2},{"b":"D11","e":-1,"s":-139.7},{"b":"D11","e":-3.5,"s":-141.2},{"b":"D11","e":-6.3,"s":-143.2},
{"b":"R12","e":-6.3,"s":-143.2},{"b":"R12","e":-6.123,"s":-90},{"b":"R12","e":-5.85,"s":0},{"b":"R12","e":-5.5,"s":60},{"b":"R12","e":-5.26,"s":90},{"b":"R12","e":-5.05,"s":105},{"b":"R12","e":-4.8,"s":120},{"b":"R12","e":-4.48,"s":131.5},{"b":"R12","e":-4.13,"s":136},{"b":"R12","e":-3.5,"s":138},{"b":"R12","e":-2,"s":139.5},{"b":"R12","e":0,"s":140.8},{"b":"R12","e":2,"s":142.2},{"b":"R12","e":4.02,"s":143.5},
{"b":"D12","e":4.02,"s":143.5},{"b":"D12","e":3.679,"s":60},{"b":"D12","e":3.434,"s":0},{"b":"D12","e":3.139,"s":-60},{"b":"D12","e":2.87,"s":-90},{"b":"D12","e":2.6,"s":-110},{"b":"D12","e":2.38,"s":-120},{"b":"D12","e":1.91,"s":-130.8},{"b":"D12","e":1.46,"s":-135.3},{"b":"D12","e":1,"s":-138.8},{"b":"D12","e":-1,"s":-140.3},{"b":"D12","e":-3.5,"s":-141.8},{"b":"D12","e":-6.3,"s":-143.8},
{"b":"R13","e":-6.3,"s":-143.8},{"b":"R13","e":-6.121,"s":-90},{"b":"R13","e":-5.85,"s":0},{"b":"R13","e":-5.5,"s":60},{"b":"R13","e":-5.26,"s":90},{"b":"R13","e":-5.05,"s":105},{"b":"R13","e":-4.8,"s":120},{"b":"R13","e":-4.45,"s":132},{"b":"R13","e":-4.1,"s":136.5},{"b":"R13","e":-3.5,"s":138.5},{"b":"R13","e":-2,"s":140},{"b":"R13","e":0,"s":141.3},{"b":"R13","e":2,"s":142.7},{"b":"R13","e":4.02,"s":144}
]
},
"hconcat":[
{
"width":460,"height":329,
"resolve":{"axis":{"x":"independent","y":"independent"}},
"layer":[
{
"data":{"name":"disp"},
"mark":{"type":"line","interpolate":"monotone","strokeWidth":1.4,"opacity":0.9},
"encoding":{
"x":{"field":"x","type":"quantitative","scale":{"domain":[293.6,444.8],"nice":false,"zero":false},
"axis":{"orient":"bottom","values":[300,320,340,360,380,400,420,440],"labelExpr":"format(datum.value,'d')+'.'","labelFontSize":18,"labelColor":"#333","labelBaseline":"middle","tickSize":5,"labelPadding":15,"tickColor":"#555","domainColor":"#555","title":"Distance from bottom of cylinder (mm)","titleFontSize":21,"titleColor":"#333","titleY":48,"titleBaseline":"middle"}},
"y":{"field":"y","type":"quantitative","scale":{"domain":[-0.821,0.29],"nice":false,"zero":false},
"axis":{"orient":"left","values":[0.25,0,-0.25,-0.5,-0.75],"format":".2f","labelFontSize":19,"labelColor":"#333","tickSize":7,"labelPadding":8,"tickColor":"#555","domainColor":"#555","title":"Residual displacement (mm)","titleFontSize":19,"titleColor":"#333","titleX":-92,"titleY":153,"titleBaseline":"middle"}},
"color":{"field":"c","type":"nominal","legend":null,"scale":{"domain":[1,2,3,4,5,6,7,8,9,10,11,12,13,14,15,16,17,18,19,20,21,22],"range":["#d2386c","#1f9e89","#d8434f","#35a37c","#8a5bb5","#6fa83a","#3f5fd0","#e77fb0","#7b4fc0","#45ad5a","#f28c28","#f0cd3a","#e0609a","#57b35a","#4aa9df","#27a39a","#4b55c8","#ec6fa0","#f497bd","#d73f63","#b03a86","#8f3a4e"]}}
}
},
{
"data":{"values":[{"x":295.3,"y":-0.821,"s":"triangle-left"},{"x":297.6,"y":-0.821,"s":"triangle-left"},{"x":442.2,"y":-0.821,"s":"triangle-right"},{"x":444.2,"y":-0.821,"s":"triangle-right"}]},
"mark":{"type":"point","filled":true,"size":35,"color":"#333","opacity":1},
"encoding":{
"x":{"field":"x","type":"quantitative","axis":{"orient":"bottom","values":[310,330,350,370,390,410,430],"labels":false,"tickSize":3,"domain":false,"title":null,"tickColor":"#555"}},
"y":{"field":"y","type":"quantitative","axis":{"orient":"left","values":[0.125,-0.125,-0.375,-0.625],"labels":false,"tickSize":4,"domain":false,"title":null,"tickColor":"#555"}},
"shape":{"field":"s","type":"nominal","scale":null}
}
},
{
"data":{"values":[{"x":390.5,"y":-0.314,"t":"Radially"},{"x":390.5,"y":-0.405,"t":"outward"}]},
"mark":{"type":"text","align":"left","baseline":"middle","fontSize":17,"fontWeight":"bold","color":"#333"},
"encoding":{"x":{"field":"x","type":"quantitative","axis":null},"y":{"field":"y","type":"quantitative","axis":null},"text":{"field":"t"}}
},
{
"data":{"values":[{"x":425,"y":-0.282,"y2":-0.42}]},
"mark":{"type":"rule","color":"#333","strokeWidth":1.6},
"encoding":{"x":{"field":"x","type":"quantitative","axis":null},"y":{"field":"y","type":"quantitative","axis":null},"y2":{"field":"y2"}}
},
{
"data":{"values":[{"x":425,"y":-0.425}]},
"mark":{"type":"point","shape":"triangle-down","filled":true,"size":30,"color":"#333","opacity":1},
"encoding":{"x":{"field":"x","type":"quantitative","axis":null},"y":{"field":"y","type":"quantitative","axis":null}}
}
]
},
{
"width":398,"height":336,
"resolve":{"axis":{"x":"independent","y":"independent"}},
"layer":[
{
"data":{"name":"loop"},
"mark":{"type":"line","interpolate":"monotone","strokeWidth":1.5,"color":"#111","opacity":0.9},
"encoding":{
"x":{"field":"e","type":"quantitative","scale":{"domain":[-6.79,6.9],"nice":false,"zero":false},
"axis":{"orient":"bottom","values":[-6,-4,-2,0,2,4,6],"format":".3f","labelFontSize":15,"labelColor":"#555","labelBaseline":"middle","tickSize":5,"labelPadding":9,"tickColor":"#666","domainColor":"#666","title":"Strain","titleFontSize":17,"titleColor":"#333","titleY":48,"titleBaseline":"middle"}},
"y":{"field":"s","type":"quantitative","scale":{"domain":[-157.5,202.5],"nice":false,"zero":false},
"axis":{"orient":"left","values":[-150,-120,-90,-60,-30,0,30,60,90,120,150,180],"labelExpr":"format(datum.value,'d')+'.'","labelFontSize":16,"labelColor":"#555","tickSize":5,"labelPadding":4,"tickColor":"#666","domain":false,"title":"Stress(MPa)","titleFontSize":20,"titleColor":"#333","titleX":-70,"titleY":159,"titleBaseline":"middle"}},
"detail":{"field":"b","type":"nominal"}
}
},
{
"data":{"values":[{"e":-6.79,"s":-157.5,"s2":195}]},
"mark":{"type":"rule","color":"#666","strokeWidth":1},
"encoding":{
"x":{"field":"e","type":"quantitative","axis":{"orient":"bottom","values":[-5,-3,-1,1,3,5],"labels":false,"tickSize":3,"domain":false,"title":null,"tickColor":"#666"}},
"y":{"field":"s","type":"quantitative","axis":{"orient":"left","values":[-142.5,-135,-127.5,-112.5,-105,-97.5,-82.5,-75,-67.5,-52.5,-45,-37.5,-22.5,-15,-7.5,7.5,15,22.5,37.5,45,52.5,67.5,75,82.5,97.5,105,112.5,127.5,135,142.5,157.5,165,172.5,187.5,195],"labels":false,"tickSize":3,"domain":false,"title":null,"tickColor":"#666"}},
"y2":{"field":"s2"}
}
},
{
"data":{"values":[{"e":6.9,"s":-157.5,"t":"[x1.E−3]"}]},
"mark":{"type":"text","dx":37,"dy":14,"align":"center","baseline":"middle","fontSize":15,"color":"#555"},
"encoding":{"x":{"field":"e","type":"quantitative","axis":null},"y":{"field":"s","type":"quantitative","axis":null},"text":{"field":"t"}}
}
]
}
]
}
